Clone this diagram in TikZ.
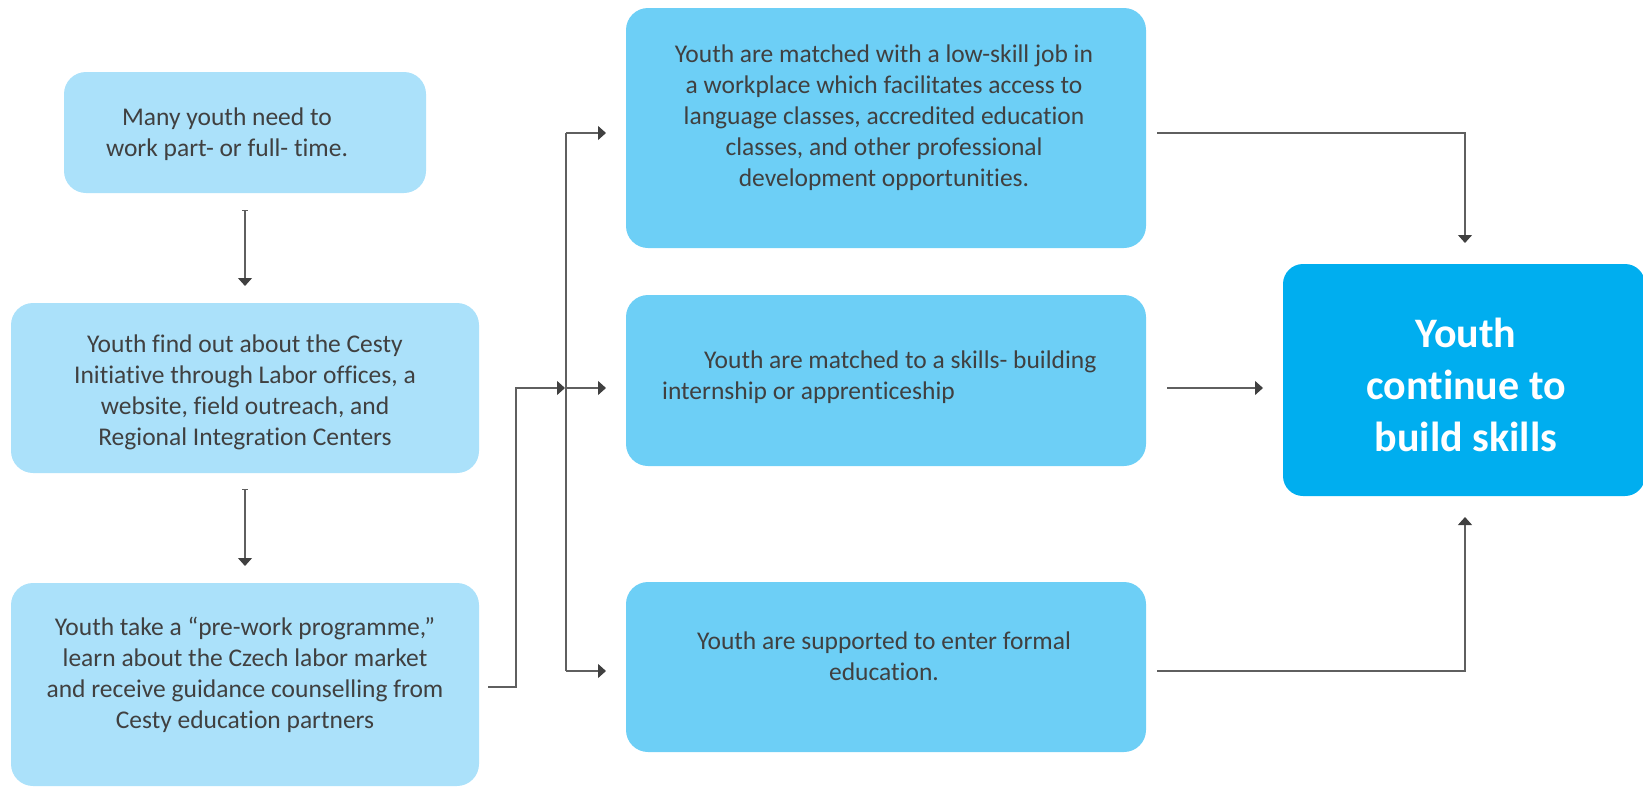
\documentclass[tikz,border=0pt]{standalone}
\usepackage{fontspec}
\setmainfont{Carlito}[Ligatures={NoCommon,NoRare,NoContextual,NoRequired},Contextuals=NoAlternate]
\usetikzlibrary{arrows.meta}
\newcommand{\zk}{\kern0pt }
\definecolor{lightb}{HTML}{ABE1FA}
\definecolor{midb}{HTML}{6DCFF6}
\definecolor{darkb}{HTML}{00AEEF}
\definecolor{txt}{HTML}{404040}
\definecolor{lin}{HTML}{5F5F5F}
\definecolor{head}{HTML}{404040}
\begin{document}
\begin{tikzpicture}[x=1pt,y=-1pt,
 box/.style={rectangle, rounded corners=22pt, inner sep=0pt, draw=none},
 lbox/.style={box, fill=lightb},
 mbox/.style={box, fill=midb},
 dbox/.style={box, fill=darkb, rounded corners=20pt},
 body/.style={text=txt, font=\fontsize{25.5}{31}\selectfont, align=center, inner sep=0pt},
 conn/.style={draw=lin, line width=1.1pt, -{Triangle[length=8pt,width=14pt,color=head]}},
 stem/.style={draw=lin, line width=1.1pt, {Bar[width=6pt]}-{Triangle[length=8pt,width=14pt,color=head]}},
 plainline/.style={draw=lin, line width=1.1pt}]
\useasboundingbox (0,0) rectangle (1643,787);

% boxes
\node[lbox, minimum width=362pt, minimum height=121pt] (b1) at (245,132.5) {};
\node[lbox, minimum width=468pt, minimum height=170pt] (b2) at (245,388) {};
\node[lbox, minimum width=468pt, minimum height=203pt] (b3) at (245,684.5) {};
\node[mbox, minimum width=520pt, minimum height=240pt] (b4) at (886,128) {};
\node[mbox, minimum width=520pt, minimum height=171pt] (b5) at (886,380.5) {};
\node[mbox, minimum width=520pt, minimum height=170pt] (b6) at (886,667) {};
\node[dbox, minimum width=362pt, minimum height=232pt] (b7) at (1464,380) {};

% texts
\node[body] (t1) at (227,134) {Many youth need to\\work part- or full- t\zk ime.};
\node[body] (t2) at (245,392) {Youth f\zk ind out about the Cesty\\Init\zk iat\zk ive through Labor of\zk f\zk ices, a\\website, f\zk ield outreach, and\\Regional Integrat\zk ion Centers};
\node[body] (t3) at (245,675) {Youth take a “pre-work programme,”\\learn about the Czech labor market\\and receive guidance counselling from\\Cesty educat\zk ion partners};
\node[body] (t4) at (884,118) {Youth are matched with a low-skill job in\\a workplace which facilitates access to\\language classes, accredited educat\zk ion\\classes, and other professional\\development opportunit\zk ies.};
\node[body, align=left, anchor=west] (t5) at (662,377) {\hspace*{42pt}Youth are matched to a skills- building\\internship or apprent\zk iceship};
\node[body] (t6) at (884,656) {Youth are supported to enter formal\\educat\zk ion.};
\node[text=white, font=\bfseries\fontsize{42}{52}\selectfont, align=center, inner sep=0pt] (t7) at (1466,385) {Youth\\cont\zk inue to\\build skills};

% connector points
\coordinate (p1) at (245,210); \coordinate (q1) at (245,286);
\coordinate (p2) at (245,489); \coordinate (q2) at (245,566);
\coordinate (s3) at (488,687); \coordinate (k3) at (516,687);
\coordinate (k4) at (516,388); \coordinate (j) at (565,388);
\coordinate (tTop) at (566,133); \coordinate (tMid) at (566,388); \coordinate (tBot) at (566,671);
\coordinate (e4) at (606,133); \coordinate (e5) at (606,388); \coordinate (e6) at (606,671);
\coordinate (r4) at (1157,133); \coordinate (r4k) at (1465,133); \coordinate (e7t) at (1465,243);
\coordinate (r5) at (1167,388); \coordinate (e7m) at (1263,388);
\coordinate (r6) at (1157,671); \coordinate (r6k) at (1465,671); \coordinate (e7b) at (1465,517);

% connectors
\draw[stem] (p1) -- (q1);
\draw[stem] (p2) -- (q2);
\draw[conn] (s3) -- (k3) -- (k4) -- (j);
\draw[plainline] (tTop) -- (tBot);
\draw[conn] (tTop) -- (e4);
\draw[conn] (tMid) -- (e5);
\draw[conn] (tBot) -- (e6);
\draw[conn] (r4) -- (r4k) -- (e7t);
\draw[conn] (r5) -- (e7m);
\draw[conn] (r6) -- (r6k) -- (e7b);
\end{tikzpicture}
\end{document}
